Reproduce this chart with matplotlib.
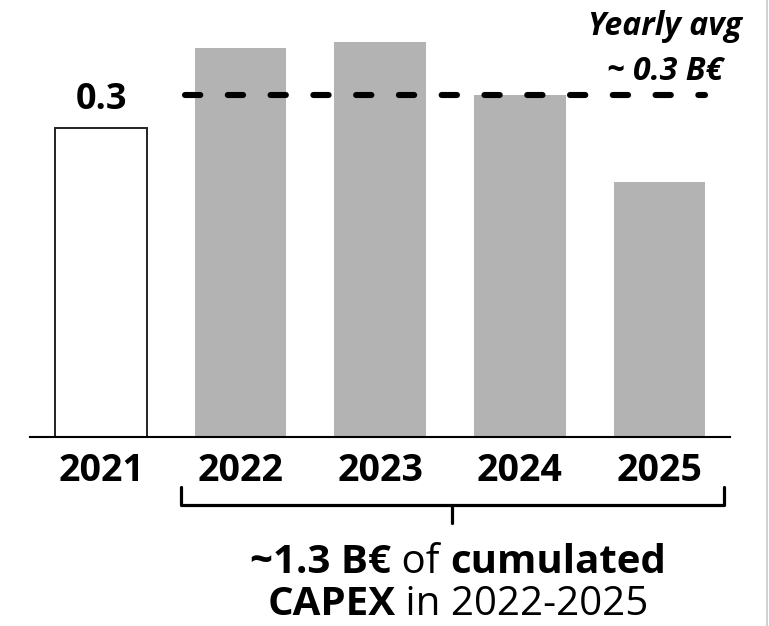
import matplotlib
matplotlib.use("Agg")
import matplotlib.pyplot as plt
from matplotlib.lines import Line2D

# Data
years = ["2021", "2022", "2023", "2024", "2025"]
capex = [0.30, 0.377, 0.383, 0.332, 0.247]   # B€ per year
yearly_avg = 0.332                            # B€, 2022-2025 average line
avg_title = "Yearly avg"
period = "2022-2025"

W, H = 769, 626
FONT = "Open Sans"
plt.rcParams["font.family"] = [FONT, "DejaVu Sans"]

fig = plt.figure(figsize=(W / 100, H / 100), dpi=100)
fig.patch.set_facecolor("white")


def px(x, y):
    """Pixel position (from top-left) to figure fraction."""
    return x / W, 1 - y / H


ax = fig.add_axes([30 / W, (H - 437) / H, 700 / W, 433 / H])
ax.set_xlim(-0.509, 4.506)
ax.set_ylim(0, 0.42)

xs = list(range(len(years)))
gray = "#b3b3b3"
for i, v in zip(xs, capex):
    if i == 0:
        ax.bar(i, v, width=0.655, color="white", edgecolor="#222222",
               linewidth=1.4, zorder=2)
    else:
        ax.bar(i, v, width=0.655, color=gray, linewidth=0, zorder=2)

# value label on the 2021 bar
ax.text(0, capex[0] + 0.0185, f"{capex[0]:.1f}", ha="center", va="baseline",
        fontsize=26, fontweight="bold", color="black")

# yearly average dashed line
avg_line, = ax.plot([0.60, 4.33], [yearly_avg, yearly_avg], color="black",
                    linewidth=4.4, dash_capstyle="round", zorder=3)
avg_line.set_dashes((2.5, 4.5))

fig.text(*px(665.5, 35), avg_title, ha="center", va="baseline",
         fontsize=23, fontweight="bold", fontstyle="italic")
fig.text(*px(665.5, 80), f"~ {yearly_avg:.1f} B€", ha="center", va="baseline",
         fontsize=23, fontweight="bold", fontstyle="italic")

# axes styling
for s in ["left", "right", "top"]:
    ax.spines[s].set_visible(False)
ax.spines["bottom"].set_linewidth(1.5)
ax.spines["bottom"].set_zorder(4)
ax.set_yticks([])
ax.set_xticks(xs)
ax.set_xticklabels(years, fontsize=27, fontweight="bold")
ax.tick_params(axis="x", length=0, pad=11)

# bracket under 2022-2025
bx = [181, 181, 724, 724]
by = [487, 505, 505, 487]
fx, fy = zip(*[px(a, b) for a, b in zip(bx, by)])
fig.add_artist(Line2D(fx, fy, color="black", linewidth=2.3,
                      solid_joinstyle="round", solid_capstyle="round"))
cx, cy = zip(*[px(452, 505), px(452, 523)])
fig.add_artist(Line2D(cx, cy, color="black", linewidth=2.3,
                      solid_capstyle="round"))

# thin separator at the right edge
sx, sy = zip(*[px(767, 0), px(767, H)])
fig.add_artist(Line2D(sx, sy, color="#c8c8c8", linewidth=1.2))

# cumulative annotation with mixed weights
total = sum(capex[1:])
lines = [
    ([(f"~{total:.1f} B€", "bold"), (" of ", "normal"), ("cumulated", "bold")], 573),
    ([("CAPEX", "bold"), (f" in {period}", "normal")], 615),
]
center_x = 458
fs = 29
renderer = fig.canvas.get_renderer()
for parts, base in lines:
    texts = []
    for s, wgt in parts:
        t = fig.text(0, 0, s, fontsize=fs, fontweight=wgt, ha="left",
                     va="baseline")
        texts.append(t)
    widths = []
    for t in texts:
        # non-breaking spaces keep the spacing in the measured width
        s = t.get_text()
        t.set_text(s.replace(" ", "\u00a0"))
        widths.append(t.get_window_extent(renderer).width)
    x0 = center_x - sum(widths) / 2
    for t, w in zip(texts, widths):
        t.set_position(px(x0, base))
        x0 += w

fig.savefig("out.png", dpi=100, facecolor="white")
